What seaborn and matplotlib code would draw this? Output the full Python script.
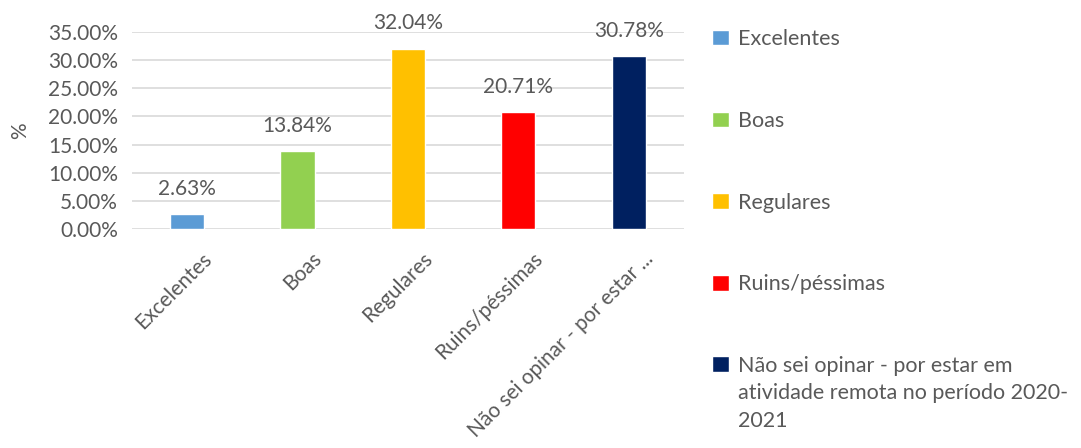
import matplotlib
matplotlib.use("Agg")
import matplotlib.pyplot as plt
import matplotlib.transforms as mtransforms
import seaborn as sns
import pandas as pd
from matplotlib.ticker import PercentFormatter

# -------------------- DATA --------------------
categories = ["Excelentes", "Boas", "Regulares", "Ruins/péssimas",
              "Não sei opinar - por estar ..."]
legend_labels = ["Excelentes", "Boas", "Regulares", "Ruins/péssimas",
                 "Não sei opinar - por estar em\natividade remota no período 2020-\n2021"]
values = [2.63, 13.84, 32.04, 20.71, 30.78]
colors = ["#5B9BD5", "#92D050", "#FFC000", "#FF0000", "#002060"]
y_ticks = [0, 5, 10, 15, 20, 25, 30, 35]

TEXT = "#595959"

sns.set_theme(style="white")
plt.rcParams["font.family"] = ["Lato", "DejaVu Sans"]

df = pd.DataFrame({"cat": categories, "val": values, "legend": legend_labels})

fig = plt.figure(figsize=(10.81, 4.48), dpi=100)
ax = fig.add_axes([0.1221, 0.4888, 0.5106, 0.4397])

sns.barplot(data=df, x="cat", y="val", hue="legend", palette=colors,
            saturation=1, dodge=False, width=0.31, ax=ax, legend=True, zorder=3)

for cont in ax.containers:
    ax.bar_label(cont, fmt="%.2f%%", padding=11, fontsize=15, color=TEXT)

# axes
ax.set_ylim(0, 35)
ax.set_yticks(y_ticks)
ax.yaxis.set_major_formatter(PercentFormatter(decimals=2))
ax.grid(axis="y", color="#D9D9D9", linewidth=1.2, zorder=0)
for s in ax.spines.values():
    s.set_visible(False)
ax.tick_params(axis="both", length=0, labelsize=15, labelcolor=TEXT)
ax.tick_params(axis="x", pad=14)
ax.tick_params(axis="y", pad=10)
ax.set_xlabel("")
ax.set_ylabel("%", fontsize=15, color=TEXT)
ax.yaxis.set_label_coords(-0.185, 0.5)
# excel puts the rotated labels a little right of the bar centre
shift = mtransforms.ScaledTranslation(14 / 100, 0, fig.dpi_scale_trans)
for lbl in ax.get_xticklabels():
    lbl.set_rotation(45)
    lbl.set_ha("right")
    lbl.set_rotation_mode("anchor")
    lbl.set_transform(lbl.get_transform() + shift)

# legend
leg = ax.legend(loc="upper left", bbox_to_anchor=(0.659, 0.935),
                bbox_transform=fig.transFigure, frameon=False, fontsize=15.5,
                handlelength=0.75, handleheight=0.75, handletextpad=0.45,
                labelspacing=2.87, borderpad=0, borderaxespad=0)
for t in leg.get_texts():
    t.set_color(TEXT)
    t.set_linespacing(1.45)
# put the patch next to the first line of the wrapped label
col = leg._legend_handle_box.get_children()[0]
col.get_children()[-1].align = "top"

fig.savefig("out.png", dpi=100)
